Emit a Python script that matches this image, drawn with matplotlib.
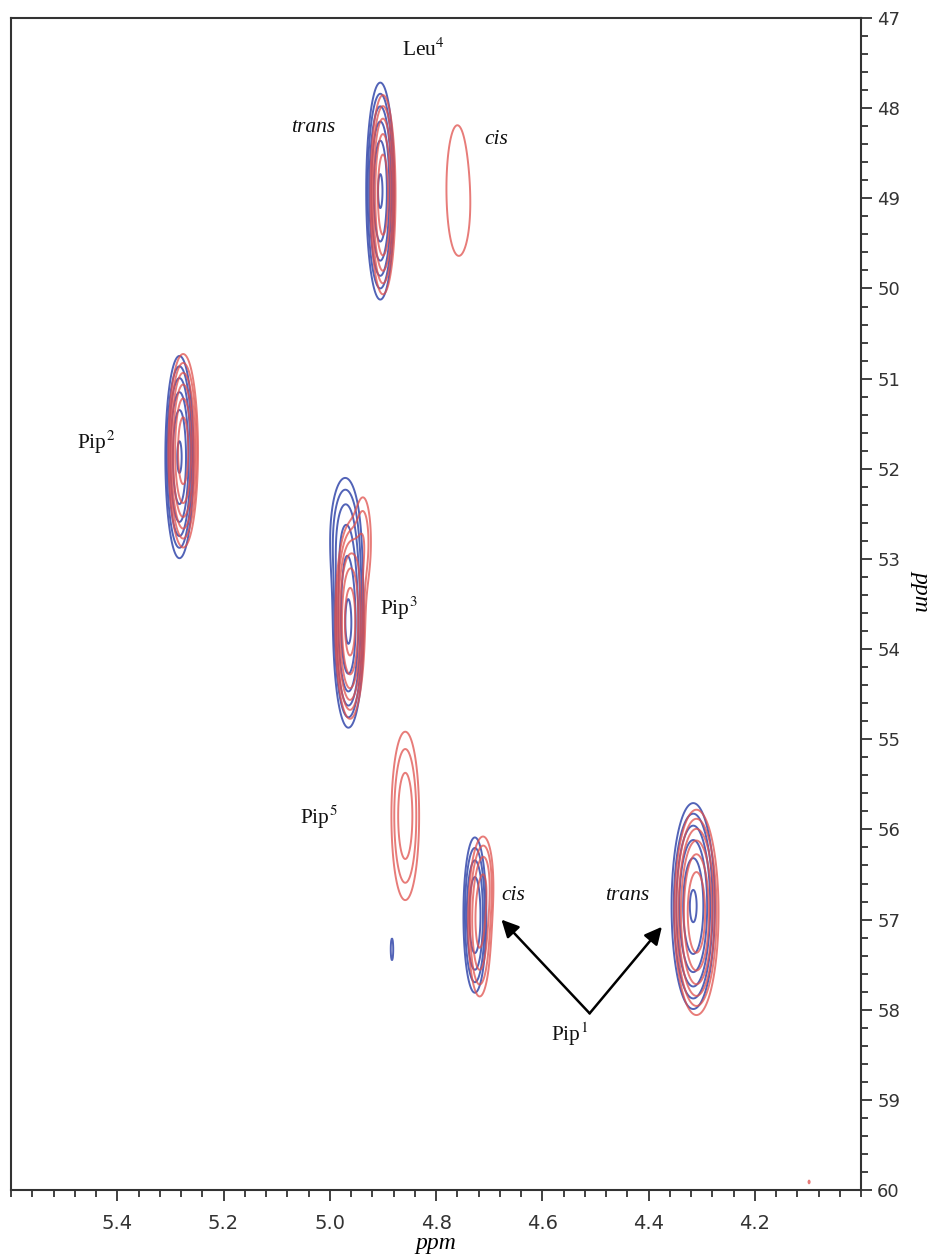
import numpy as np
import matplotlib
matplotlib.use("Agg")
import matplotlib.pyplot as plt
from matplotlib.ticker import MultipleLocator, FixedLocator, FormatStrFormatter

plt.rcParams['mathtext.fontset'] = 'stix'

# peak lists: (x ppm, y ppm, amplitude, width x, width y)
blue_peaks = [
    (4.905, 48.92, 8.0, 0.013, 0.59),   # Leu4 trans
    (5.283, 51.87, 8.0, 0.013, 0.55),   # Pip2
    (4.965, 53.75, 8.0, 0.014, 0.55),   # Pip3
    (4.972, 52.75, 2.6, 0.019, 0.45),   # Pip3 shoulder
    (4.883, 57.33, 1.25, 0.0035, 0.18), # small blue dash
    (4.727, 56.95, 5.0, 0.012, 0.48),   # Pip1 cis
    (4.316, 56.85, 8.0, 0.020, 0.56),   # Pip1 trans
]
red_peaks = [
    (4.900, 48.96, 7.0, 0.012, 0.56),   # Leu4 trans
    (4.760, 48.88, 1.3, 0.028, 0.95),   # Leu4 cis
    (4.746, 49.20, 0.18, 0.014, 0.35),  # Leu4 cis lower part
    (5.276, 51.80, 10.0, 0.013, 0.50),  # Pip2
    (4.962, 53.70, 10.0, 0.013, 0.50),  # Pip3
    (4.937, 52.80, 2.0, 0.012, 0.40),   # Pip3 shoulder
    (4.858, 55.85, 3.0, 0.0176, 0.63),  # Pip5
    (4.718, 57.02, 4.0, 0.013, 0.50),   # Pip1 cis
    (4.706, 56.55, 1.6, 0.010, 0.30),   # Pip1 cis shoulder
    (4.310, 56.92, 11.0, 0.019, 0.52),  # Pip1 trans
    (4.098, 59.91, 1.15, 0.002, 0.03),  # tiny dot
]
levels = [1.0, 1.5, 2.25, 3.4, 5.1, 7.6, 11.4]

labels = [
    ("Leu$^{4}$", 4.823, 47.35, "normal"),
    ("trans", 5.032, 48.22, "italic"),
    ("cis", 4.687, 48.35, "italic"),
    ("Pip$^{2}$", 5.44, 51.71, "normal"),
    ("Pip$^{3}$", 4.87, 53.55, "normal"),
    ("Pip$^{5}$", 5.02, 55.86, "normal"),
    ("cis", 4.655, 56.73, "italic"),
    ("trans", 4.44, 56.73, "italic"),
    ("Pip$^{1}$", 4.549, 58.27, "normal"),
]
arrow_from = (4.511, 58.04)
arrow_to = [(4.677, 57.0), (4.375, 57.08)]
x_ticks = [5.4, 5.2, 5.0, 4.8, 4.6, 4.4, 4.2]

xs = np.linspace(4.0, 5.6, 1600)
ys = np.linspace(47.0, 60.0, 2600)


def spectrum(peaks):
    z = np.zeros((len(ys), len(xs)))
    for x0, y0, a, sx, sy in peaks:
        gx = np.exp(-(xs - x0) ** 2 / (2 * sx ** 2))
        gy = np.exp(-(ys - y0) ** 2 / (2 * sy ** 2))
        z += a * np.outer(gy, gx)
    return z


fig = plt.figure(figsize=(9.34, 12.58), dpi=100)
ax = fig.add_axes([0.0118, 0.054, 0.9102, 0.9317])

ax.contour(xs, ys, spectrum(blue_peaks), levels=levels, colors='#3f52b0',
           linewidths=1.4, alpha=0.9)
ax.contour(xs, ys, spectrum(red_peaks), levels=levels, colors='#e0504c',
           linewidths=1.4, alpha=0.75)

for txt, x, y, style in labels:
    ax.text(x, y, txt, fontsize=15.5, family='Liberation Serif', style=style,
            ha='center', va='center', color='#111111')

for tx, ty in arrow_to:
    ax.annotate('', xy=(tx, ty), xytext=arrow_from,
                arrowprops=dict(arrowstyle='-|>', color='black', lw=1.8,
                                mutation_scale=26, shrinkA=0, shrinkB=0))

ax.set_xlim(5.6, 4.0)
ax.set_ylim(60, 47)
ax.yaxis.tick_right()
ax.yaxis.set_label_position('right')
ax.xaxis.set_major_locator(FixedLocator(x_ticks))
ax.xaxis.set_minor_locator(MultipleLocator(0.04))
ax.xaxis.set_major_formatter(FormatStrFormatter('%.1f'))
ax.yaxis.set_major_locator(MultipleLocator(1))
ax.yaxis.set_minor_locator(MultipleLocator(0.2))

ax.tick_params(which='major', length=8, width=1.3, color='#333333',
               labelsize=13, labelcolor='#333333', direction='out')
ax.tick_params(which='minor', length=5, width=1.3, color='#333333',
               direction='out')
ax.tick_params(axis='x', labelsize=14, pad=9)
for s in ax.spines.values():
    s.set_linewidth(1.5)
    s.set_color('#333333')

ax.set_xlabel('ppm', fontsize=17, family='Liberation Serif', style='italic',
              labelpad=0)
ax.set_ylabel('ppm', fontsize=17, family='Liberation Serif', style='italic',
              rotation=270, va='center', ha='center')
ax.yaxis.set_label_coords(1.072, 0.512)

fig.savefig('out.png', dpi=100)
